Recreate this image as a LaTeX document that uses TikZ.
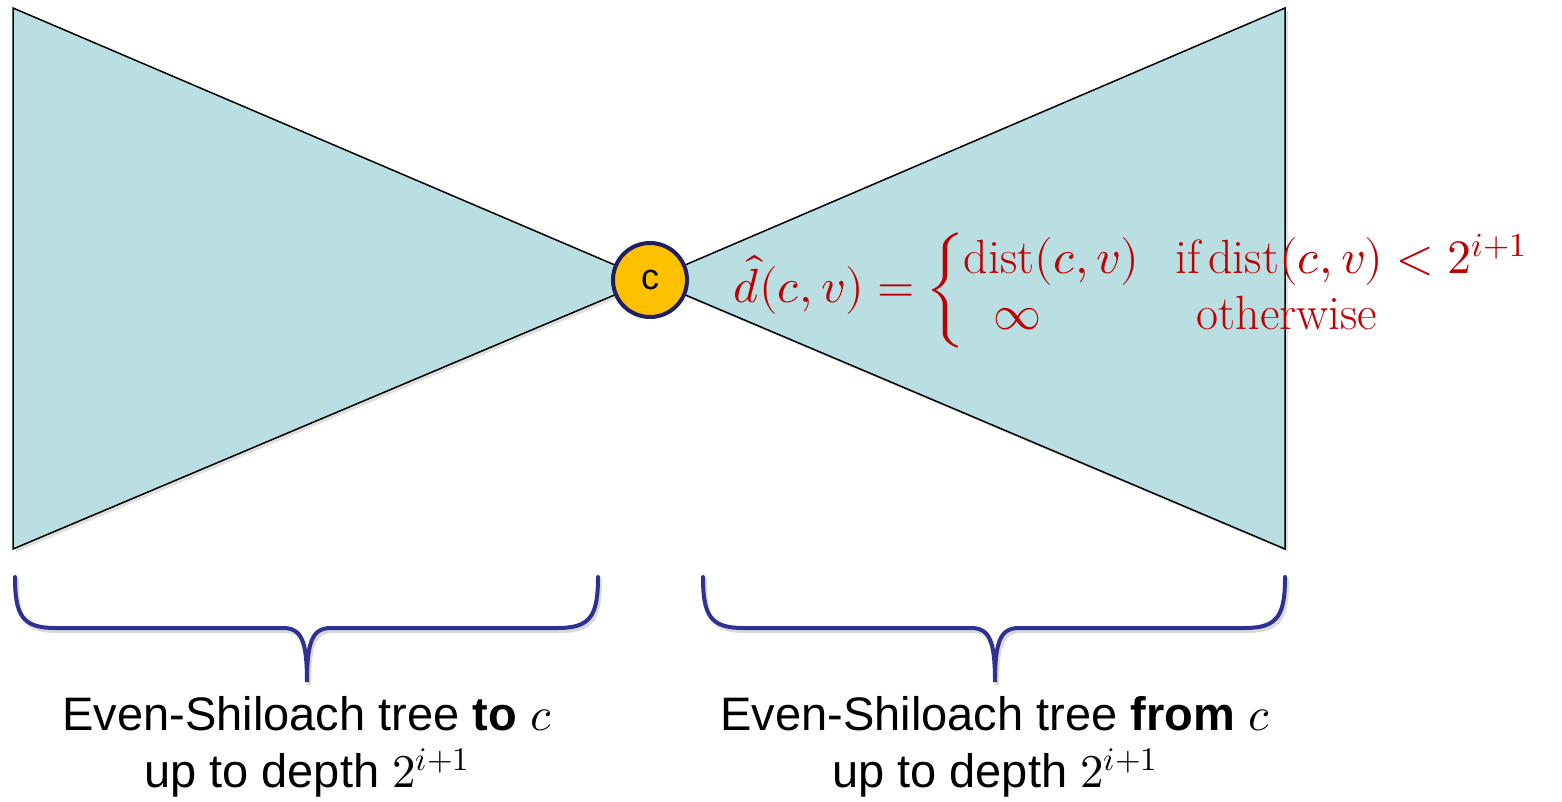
\documentclass[tikz,border=0pt]{standalone}
\usepackage{fontspec}
\usepackage{amsmath}
\usepackage{unicode-math}
\setmathfont{Latin Modern Math}
\newfontfamily\arial{Liberation Sans}
\usetikzlibrary{shadows}
\definecolor{tri}{HTML}{B9DFE3}
\definecolor{fred}{HTML}{C00000}
\definecolor{brc}{HTML}{2E3192}
\definecolor{cfill}{HTML}{FFC000}
\definecolor{cbord}{HTML}{1F1F5F}
\tikzset{
  tri/.style={fill=tri, draw=black, line width=1.5pt, line join=miter,
    drop shadow={shadow xshift=3pt, shadow yshift=-3pt, opacity=0.25}},
  brace/.style={draw=brc, line width=4pt, line cap=round},
  braceshadow/.style={draw=black, opacity=0.15, line width=4pt, line cap=round},
  lbl/.style={align=center, font=\arial\fontsize{47}{57}\selectfont, inner sep=0pt},
}
\begin{document}
\begin{tikzpicture}[x=1pt, y=-1pt]
\useasboundingbox (0,0) rectangle (1562,802);
\coordinate (ctr) at (650,280);
\coordinate (ltop) at (13,8);
\coordinate (lbot) at (13,549);
\coordinate (rtop) at (1285,8);
\coordinate (rbot) at (1285,549);
\path[tri] (ltop) -- (ctr) -- (lbot) -- cycle;
\path[tri] (rtop) -- (ctr) -- (rbot) -- cycle;
\node[circle, fill=cfill, draw=cbord, line width=4pt, minimum size=74pt, inner sep=0pt,
  font=\arial\fontsize{36}{40}\selectfont] (c) at (ctr) {c};
\node[anchor=west, text=fred, inner sep=0pt, font=\fontsize{48}{56}\selectfont] (f) at (733,290)
 {$\hat{d}(c,v)=\left\{\begin{array}{@{}l@{\hspace{0.75em}}l@{}}
   \mathrm{dist}(c,v) & \mathrm{if}\,\mathrm{dist}(c,v)<2^{i+1}\\
   \hspace{0.62em}\infty & \hspace{0.45em}\mathrm{otherwise}
 \end{array}\right.$};
\foreach \dx/\dy/\sty in {2/3/braceshadow, 0/0/brace}{
\path[\sty, shift={(\dx,\dy)}] (15,577) .. controls (15,615) and (22,628) .. (55,628) -- (283,628)
  .. controls (301,628) and (307,640) .. (307,682)
  .. controls (307,640) and (313,628) .. (331,628) -- (558,628)
  .. controls (591,628) and (598,615) .. (598,577);
\path[\sty, shift={(\dx,\dy)}] (703,577) .. controls (703,615) and (710,628) .. (743,628) -- (971,628)
  .. controls (989,628) and (995,640) .. (995,682)
  .. controls (995,640) and (1001,628) .. (1019,628) -- (1245,628)
  .. controls (1278,628) and (1285,615) .. (1285,577);
}
\node[lbl] (lt) at (307,747) {Even-Shiloach tree \textbf{to} $c$\\up to depth $2^{i+1}$};
\node[lbl] (rt) at (995,747) {Even-Shiloach tree \textbf{from} $c$\\up to depth $2^{i+1}$};
\end{tikzpicture}
\end{document}
